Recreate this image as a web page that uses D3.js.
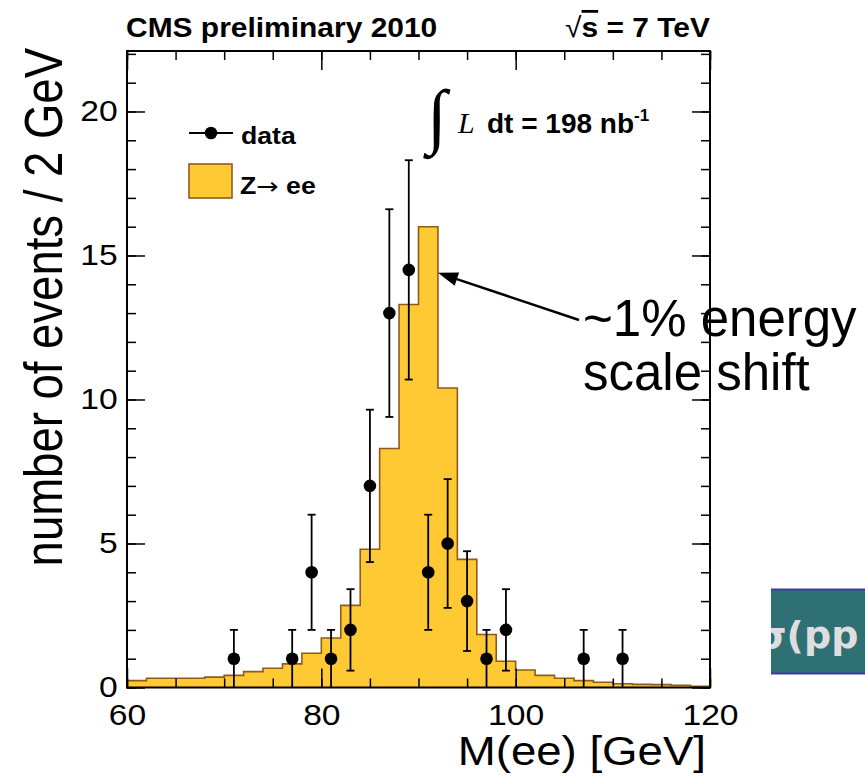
<!DOCTYPE html>
<html>
<head>
<meta charset="utf-8">
<script src="https://cdn.jsdelivr.net/npm/d3@7"></script>
<style>
  body { margin: 0; background: #fff; }
  svg { display: block; font-family: "Liberation Sans", Arial, sans-serif; }
</style>
</head>
<body>
<div id="chart"></div>
<script>
// Z->ee MC histogram, 2 GeV bins (lower edges) and expected counts
const binLow = [60, 62, 64, 66, 68, 70, 72, 74, 76, 78, 80, 82, 84, 86, 88,
                90, 92, 94, 96, 98, 100, 102, 104, 106, 108, 110, 112, 114, 116, 118];
const mcCounts = [0.24, 0.32, 0.32, 0.32, 0.36, 0.42, 0.55, 0.67, 0.82, 1.19, 1.72, 2.85, 4.8, 8.3, 13.3,
                  16.0, 10.4, 4.45, 1.84, 0.91, 0.61, 0.42, 0.32, 0.24, 0.18, 0.13, 0.11, 0.1, 0.08, 0.04];
const binWidth = 2;

// data points (bin centres) and event counts
const dataMass = [71, 77, 79, 81, 83, 85, 87, 89, 91, 93, 95, 97, 99, 107, 111];
const dataCounts = [1, 1, 4, 1, 2, 7, 13, 14.5, 4, 5, 3, 1, 2, 1, 1];

const xMajorTicks = [60, 80, 100, 120];
const yMajorTicks = [0, 5, 10, 15, 20];

const fillColor = "#fec933";
const lineColor = "#8f5b1c";
const stretch = 1.16; // the ROOT figure is a bit wider than tall in the slide

const width = 865, height = 777;
const frame = {left: 127, right: 710, top: 51, bottom: 687.5};

const svg = d3.select("#chart").append("svg")
    .attr("width", width)
    .attr("height", height);

const x = d3.scaleLinear().domain([60, 120]).range([frame.left, frame.right]);
const y = d3.scaleLinear().domain([0, 22.1]).range([frame.bottom, frame.top]);

// histogram
const histPts = binLow.map((b, i) => ({x: b, v: mcCounts[i]}));
histPts.push({x: binLow[binLow.length - 1] + binWidth, v: mcCounts[mcCounts.length - 1]});

svg.append("path")
    .datum(histPts)
    .attr("fill", fillColor)
    .attr("d", d3.area().curve(d3.curveStepAfter)
        .x(d => x(d.x)).y0(y(0)).y1(d => y(d.v)));

svg.append("path")
    .datum(histPts)
    .attr("fill", "none")
    .attr("stroke", lineColor)
    .attr("stroke-width", 1.6)
    .attr("d", d3.line().curve(d3.curveStepAfter)
        .x(d => x(d.x)).y(d => y(d.v)));

// data with sqrt(N) errors
const pts = dataMass.map((m, i) => ({m, n: dataCounts[i], e: Math.sqrt(dataCounts[i])}));
const dataG = svg.append("g").attr("stroke", "#000").attr("stroke-width", 1.8);
dataG.selectAll(".err")
    .data(pts)
    .join("line")
    .attr("x1", d => x(d.m)).attr("x2", d => x(d.m))
    .attr("y1", d => y(d.n - d.e)).attr("y2", d => y(d.n + d.e));
dataG.selectAll(".capHi")
    .data(pts)
    .join("line")
    .attr("x1", d => x(d.m) - 4).attr("x2", d => x(d.m) + 4)
    .attr("y1", d => y(d.n + d.e)).attr("y2", d => y(d.n + d.e));
dataG.selectAll(".capLo")
    .data(pts.filter(d => d.n - d.e > 0.05))
    .join("line")
    .attr("x1", d => x(d.m) - 4).attr("x2", d => x(d.m) + 4)
    .attr("y1", d => y(d.n - d.e)).attr("y2", d => y(d.n - d.e));
svg.selectAll(".dot")
    .data(pts)
    .join("circle")
    .attr("cx", d => x(d.m))
    .attr("cy", d => y(d.n))
    .attr("r", 6.3)
    .attr("fill", "#000");

// axes (ticks pointing inward, ROOT style)
function styleAxis(g) {
    g.select(".domain").remove();
    g.attr("font-family", null).attr("font-size", 29).attr("fill", "#000");
    g.selectAll("line").attr("stroke", "#000").attr("stroke-width", 1.5);
    g.selectAll("text").attr("fill", "#000").attr("transform", `scale(${stretch},1)`);
}

svg.append("g")
    .attr("transform", `translate(0,${frame.bottom})`)
    .call(d3.axisBottom(x).tickValues(x.ticks(12)).tickSize(-9).tickFormat(""))
    .call(styleAxis);
svg.append("g")
    .attr("transform", `translate(0,${frame.bottom})`)
    .call(d3.axisBottom(x).tickValues(xMajorTicks).tickSize(-19).tickPadding(17).tickFormat(d3.format("d")))
    .call(styleAxis);
svg.append("g")
    .attr("transform", `translate(0,${frame.top})`)
    .call(d3.axisTop(x).tickValues(x.ticks(12)).tickSize(-9).tickFormat(""))
    .call(styleAxis);
svg.append("g")
    .attr("transform", `translate(0,${frame.top})`)
    .call(d3.axisTop(x).tickValues(xMajorTicks).tickSize(-19).tickFormat(""))
    .call(styleAxis);

svg.append("g")
    .attr("transform", `translate(${frame.left},0)`)
    .call(d3.axisLeft(y).tickValues(y.ticks(22)).tickSize(-9).tickFormat(""))
    .call(styleAxis);
svg.append("g")
    .attr("transform", `translate(${frame.left},0)`)
    .call(d3.axisLeft(y).tickValues(yMajorTicks).tickSize(-18).tickPadding(8).tickFormat(d3.format("d")))
    .call(styleAxis);
svg.append("g")
    .attr("transform", `translate(${frame.right},0)`)
    .call(d3.axisRight(y).tickValues(y.ticks(22)).tickSize(-9).tickFormat(""))
    .call(styleAxis);
svg.append("g")
    .attr("transform", `translate(${frame.right},0)`)
    .call(d3.axisRight(y).tickValues(yMajorTicks).tickSize(-18).tickFormat(""))
    .call(styleAxis);

svg.append("rect")
    .attr("x", frame.left).attr("y", frame.top)
    .attr("width", frame.right - frame.left)
    .attr("height", frame.bottom - frame.top)
    .attr("fill", "none")
    .attr("stroke", "#000")
    .attr("stroke-width", 2);

// axis titles
svg.append("text")
    .attr("transform", "translate(706,765) scale(1.14,1)")
    .attr("text-anchor", "end")
    .attr("font-size", 40)
    .text("M(ee) [GeV]");

svg.append("text")
    .attr("transform", `translate(62,48) scale(${stretch},1) rotate(-90)`)
    .attr("text-anchor", "end")
    .attr("font-size", 45.5)
    .text("number of events / 2 GeV");

// header
svg.append("text")
    .attr("transform", "translate(126,37) scale(1.07,1)")
    .attr("font-size", 28).attr("font-weight", "bold")
    .text("CMS preliminary 2010");

const sq = svg.append("text")
    .attr("transform", `translate(${frame.right},37) scale(1.07,1)`)
    .attr("text-anchor", "end")
    .attr("font-size", 28).attr("font-weight", "bold");
sq.append("tspan").attr("font-weight", "normal").text("√");
sq.append("tspan").style("text-decoration", "overline").text("s");
sq.append("tspan").text(" = 7 TeV");

// legend
const leg = svg.append("g");
leg.append("line")
    .attr("x1", 189).attr("x2", 233).attr("y1", 133).attr("y2", 133)
    .attr("stroke", "#000").attr("stroke-width", 1.8);
leg.append("circle").attr("cx", 211).attr("cy", 133).attr("r", 6.3).attr("fill", "#000");
leg.append("text")
    .attr("transform", `translate(241,144) scale(${stretch},1)`)
    .attr("font-size", 23).attr("font-weight", "bold")
    .text("data");
leg.append("rect")
    .attr("x", 189).attr("y", 164).attr("width", 43).attr("height", 34)
    .attr("fill", fillColor).attr("stroke", lineColor).attr("stroke-width", 1.6);
const zt = leg.append("text")
    .attr("transform", `translate(240,194) scale(${stretch},1)`)
    .attr("font-size", 23).attr("font-weight", "bold");
zt.append("tspan").text("Z");
zt.append("tspan").attr("font-weight", "normal").attr("font-family", "DejaVu Sans, sans-serif").text("→");
zt.append("tspan").text(" ee");

// luminosity
svg.append("text")
    .attr("x", 427).attr("y", 140)
    .attr("font-family", "Liberation Serif, serif")
    .attr("font-size", 72)
    .text("∫");
svg.append("text")
    .attr("x", 458).attr("y", 133)
    .attr("font-family", "Liberation Serif, serif")
    .attr("font-style", "italic")
    .attr("font-size", 30)
    .text("L");
const lumi = svg.append("text")
    .attr("x", 487).attr("y", 133)
    .attr("font-size", 28).attr("font-weight", "bold");
lumi.append("tspan").text("dt = 198 nb");
lumi.append("tspan").attr("dy", -12).attr("font-size", 17).text("-1");

// annotation
const tipX = x(92), tipY = y(14.4);
const tailX = 579, tailY = 320;
const ang = Math.atan2(tailY - tipY, tailX - tipX);
const headLen = 20, headW = 7;
svg.append("line")
    .attr("x1", tailX).attr("y1", tailY)
    .attr("x2", tipX + Math.cos(ang) * headLen * 0.8)
    .attr("y2", tipY + Math.sin(ang) * headLen * 0.8)
    .attr("stroke", "#000").attr("stroke-width", 2.5);
const bx = tipX + Math.cos(ang) * headLen, by = tipY + Math.sin(ang) * headLen;
svg.append("path")
    .attr("d", `M${tipX},${tipY}L${bx - Math.sin(ang) * headW},${by + Math.cos(ang) * headW}L${bx + Math.sin(ang) * headW},${by - Math.cos(ang) * headW}Z`)
    .attr("fill", "#000");

svg.append("text")
    .attr("x", 583).attr("y", 336)
    .attr("font-size", 51)
    .text("~1% energy");
svg.append("text")
    .attr("x", 583).attr("y", 390)
    .attr("font-size", 51)
    .text("scale shift");

// partial slide box at the bottom right
const defs = svg.append("defs");
defs.append("clipPath").attr("id", "boxClip")
    .append("rect").attr("x", 771).attr("y", 589).attr("width", 100).attr("height", 85);
svg.append("rect")
    .attr("x", 771).attr("y", 589).attr("width", 100).attr("height", 85)
    .attr("fill", "#2f7074");
svg.append("line").attr("x1", 771).attr("x2", 865).attr("y1", 589.5).attr("y2", 589.5)
    .attr("stroke", "#3c3f9a").attr("stroke-width", 2);
svg.append("line").attr("x1", 771).attr("x2", 865).attr("y1", 673.5).attr("y2", 673.5)
    .attr("stroke", "#3c3f9a").attr("stroke-width", 2);
svg.append("text")
    .attr("clip-path", "url(#boxClip)")
    .attr("x", 757).attr("y", 648)
    .attr("font-family", "DejaVu Sans, sans-serif")
    .attr("font-weight", "bold")
    .attr("font-size", 38)
    .attr("fill", "#dedede")
    .text("σ(pp");
</script>
</body>
</html>
